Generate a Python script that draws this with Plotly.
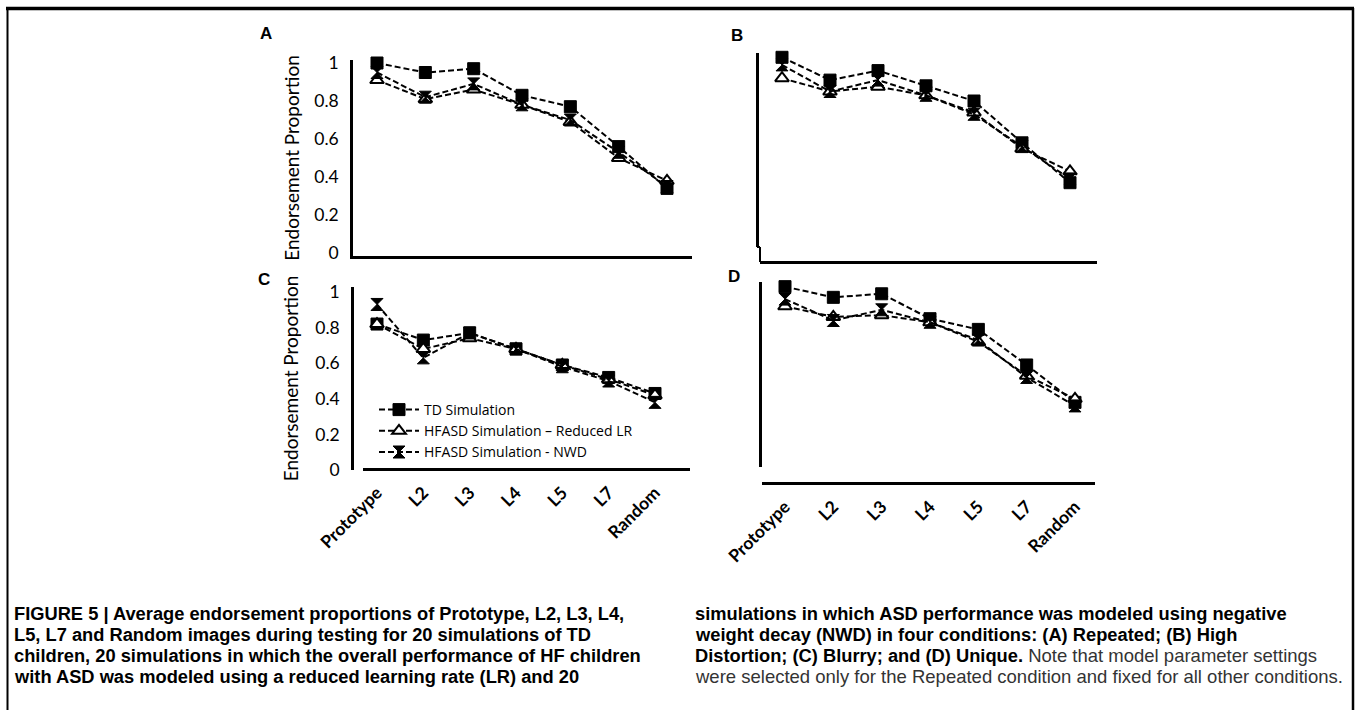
import plotly.graph_objects as go

W, H = 1357, 710

categories = ["Prototype", "L2", "L3", "L4", "L5", "L7", "Random"]
series_names = ["TD Simulation", "HFASD Simulation \u2013 Reduced LR", "HFASD Simulation - NWD"]

A_td = [1.00, 0.95, 0.97, 0.83, 0.77, 0.56, 0.34]
A_lr = [0.91, 0.81, 0.86, 0.78, 0.69, 0.50, 0.38]
A_nwd = [0.95, 0.82, 0.89, 0.78, 0.70, 0.53, 0.35]

B_td = [1.03, 0.91, 0.96, 0.88, 0.80, 0.58, 0.37]
B_lr = [0.92, 0.85, 0.875, 0.83, 0.74, 0.55, 0.43]
B_nwd = [0.99, 0.85, 0.91, 0.83, 0.73, 0.56, 0.39]

C_td = [0.82, 0.73, 0.77, 0.68, 0.59, 0.52, 0.43]
C_lr = [0.82, 0.68, 0.74, 0.68, 0.59, 0.51, 0.42]
C_nwd = [0.93, 0.63, 0.77, 0.68, 0.58, 0.50, 0.38]

D_td = [1.03, 0.97, 0.99, 0.85, 0.79, 0.59, 0.38]
D_lr = [0.92, 0.86, 0.87, 0.83, 0.72, 0.53, 0.40]
D_nwd = [0.96, 0.84, 0.90, 0.83, 0.73, 0.52, 0.36]

y_ticks = [0, 0.2, 0.4, 0.6, 0.8, 1]
y_ticktext = ["0", "0.2", "0.4", "0.6", "0.8", "1"]
y_title = "Endorsement Proportion"

caption_left = [
    "<b>FIGURE 5 | Average endorsement proportions of Prototype, L2, L3, L4,</b>",
    "<b>L5, L7 and Random images during testing for 20 simulations of TD</b>",
    "<b>children, 20 simulations in which the overall performance of HF children</b>",
    "<b>with ASD was modeled using a reduced learning rate (LR) and 20</b>",
]
REG = "<span style='font-weight:normal;font-size:18.5px;color:#333'>"
caption_right = [
    "<b>simulations in which ASD performance was modeled using negative</b>",
    "<b>weight decay (NWD) in four conditions: (A) Repeated; (B) High</b>",
    "<b>Distortion; (C) Blurry; and (D) Unique.</b> " + REG + "Note that model parameter settings</span>",
    REG + "were selected only for the Repeated condition and fixed for all other conditions.</span>",
]

# ---- layout helpers (pixel -> paper) ----
def xdom(p0, p1):
    return [p0 / W, p1 / W]

def ydom(top, bot):
    return [1 - bot / H, 1 - top / H]

def xrange_(d0, d1, c0, c6):
    u = (c6 - c0) / 6
    a = -(c0 - d0) / u
    return [a, a + (d1 - d0) / u]

def yrange_(top, bot, p0, s):
    return [(p0 - bot) / s, (p0 - top) / s]

panels = {
    "A": dict(xd=(353, 692), c=(377, 667), yd=(60, 256), map=(253, 190), ylinex=None, xliney=None,
              ylab=True, xlab=False, data=(A_td, A_lr, A_nwd)),
    "B": dict(xd=(760, 1097), c=(782, 1070), yd=(53, 247), map=(253, 190), ylinex=757, xliney=262,
              ylab=False, xlab=False, data=(B_td, B_lr, B_nwd)),
    "C": dict(xd=(363, 690), c=(377, 655), yd=(287, 470), map=(470, 178), ylinex=352, xliney=469,
              ylab=True, xlab=True, data=(C_td, C_lr, C_nwd)),
    "D": dict(xd=(762, 1095), c=(785, 1075), yd=(282, 467), map=(470, 178), ylinex=760, xliney=483,
              ylab=False, xlab=True, data=(D_td, D_lr, D_nwd)),
}

markers = [
    dict(symbol="square", size=12, color="black", line=dict(color="black", width=1)),
    dict(symbol="triangle-up", size=12, color="white", line=dict(color="black", width=2)),
    dict(symbol="hourglass", size=12, color="black", line=dict(color="black", width=1)),
]

fig = go.Figure()
FONT = "Lato, Open Sans, sans-serif"
layout_axes = {}
for i, (name, p) in enumerate(panels.items()):
    n = "" if i == 0 else str(i + 1)
    xa, ya = "x" + n, "y" + n
    for k, vals in enumerate(p["data"]):
        fig.add_trace(go.Scatter(
            x=list(range(len(categories))), y=vals, xaxis=xa, yaxis=ya,
            mode="lines+markers", name=series_names[k], legendgroup=series_names[k],
            showlegend=(name == "C"), cliponaxis=False,
            line=dict(color="black", width=2, dash="6px,3px"),
            marker=markers[k],
        ))
    xaxis = dict(
        domain=xdom(*p["xd"]), range=xrange_(p["xd"][0], p["xd"][1], p["c"][0], p["c"][1]),
        tickvals=list(range(len(categories))), ticktext=categories, automargin=False,
        showticklabels=p["xlab"], ticks="", showgrid=False, zeroline=False,
        showline=True, linecolor="black", linewidth=2.5,
        tickangle=-45, tickfont=dict(family=FONT, size=17.5, color="black", weight="bold"),
        ticklabelstandoff=5,
    )
    yaxis = dict(
        domain=ydom(*p["yd"]), range=yrange_(p["yd"][0], p["yd"][1], p["map"][0], p["map"][1]),
        tickvals=y_ticks, ticktext=y_ticktext, showticklabels=p["ylab"], ticks="", automargin=False,
        showgrid=False, zeroline=False, showline=True, linecolor="black", linewidth=2.5,
        tickfont=dict(family=FONT, size=17.5, color="black"), ticklabelstandoff=8,
    )
    if p["ylab"]:
        yaxis["title"] = dict(text=y_title, font=dict(family=FONT, size=19, color="black"), standoff=10)
    if p["xliney"] is not None:
        xaxis["anchor"] = "free"
        xaxis["position"] = 1 - p["xliney"] / H
    else:
        xaxis["anchor"] = ya
    if p["ylinex"] is not None:
        yaxis["anchor"] = "free"
        yaxis["position"] = p["ylinex"] / W
    else:
        yaxis["anchor"] = xa
    layout_axes["xaxis" + n] = xaxis
    layout_axes["yaxis" + n] = yaxis

fig.update_layout(**layout_axes)

annotations = []
for lab, (px, py) in {"A": (266, 33), "B": (737, 35), "C": (264, 280), "D": (734, 277)}.items():
    annotations.append(dict(text="<b>" + lab + "</b>", x=px / W, y=1 - py / H, xref="paper", yref="paper",
                            showarrow=False, xanchor="center", yanchor="middle",
                            font=dict(family="Liberation Sans, Arial", size=17, color="black")))
line_y = [613, 634, 655, 676]
CAP = "Liberation Sans, Arial, sans-serif"
for j, t in enumerate(caption_left):
    annotations.append(dict(text=t, x=12 / W, y=1 - line_y[j] / H, xref="paper", yref="paper",
                            showarrow=False, xanchor="left", yanchor="middle", align="left",
                            font=dict(family=CAP, size=18.3, color="black")))
for j, t in enumerate(caption_right):
    annotations.append(dict(text=t, x=693 / W, y=1 - line_y[j] / H, xref="paper", yref="paper",
                            showarrow=False, xanchor="left", yanchor="middle", align="left",
                            font=dict(family=CAP, size=18.3, color="black")))

shapes = [
    dict(type="line", xref="paper", yref="paper", x0=6 / W, x1=1354 / W, y0=1 - 8.5 / H, y1=1 - 8.5 / H,
         line=dict(color="black", width=3.5)),
    dict(type="line", xref="paper", yref="paper", x0=7.5 / W, x1=7.5 / W, y0=1 - 8 / H, y1=0,
         line=dict(color="black", width=2)),
    dict(type="line", xref="paper", yref="paper", x0=1353 / W, x1=1353 / W, y0=1 - 8 / H, y1=0,
         line=dict(color="black", width=2.5)),
    dict(type="line", xref="paper", yref="paper", x0=757 / W, x1=760 / W, y0=1 - 247 / H, y1=1 - 247 / H,
         line=dict(color="black", width=2)),
    dict(type="line", xref="paper", yref="paper", x0=760 / W, x1=760 / W, y0=1 - 247 / H, y1=1 - 262 / H,
         line=dict(color="black", width=2)),
]

fig.update_layout(
    template="none",
    width=W, height=H, margin=dict(l=0, r=0, t=0, b=0, autoexpand=False),
    paper_bgcolor="white", plot_bgcolor="rgba(0,0,0,0)",
    annotations=annotations, shapes=shapes,
    legend=dict(x=374 / W, y=1 - 394 / H, xanchor="left", yanchor="top", bgcolor="rgba(0,0,0,0)",
                font=dict(family="Open Sans, Lato, sans-serif", size=14, color="black"),
                tracegroupgap=0, itemwidth=40, traceorder="normal", borderwidth=0),
    showlegend=True,
)

fig.write_html("out.html")
